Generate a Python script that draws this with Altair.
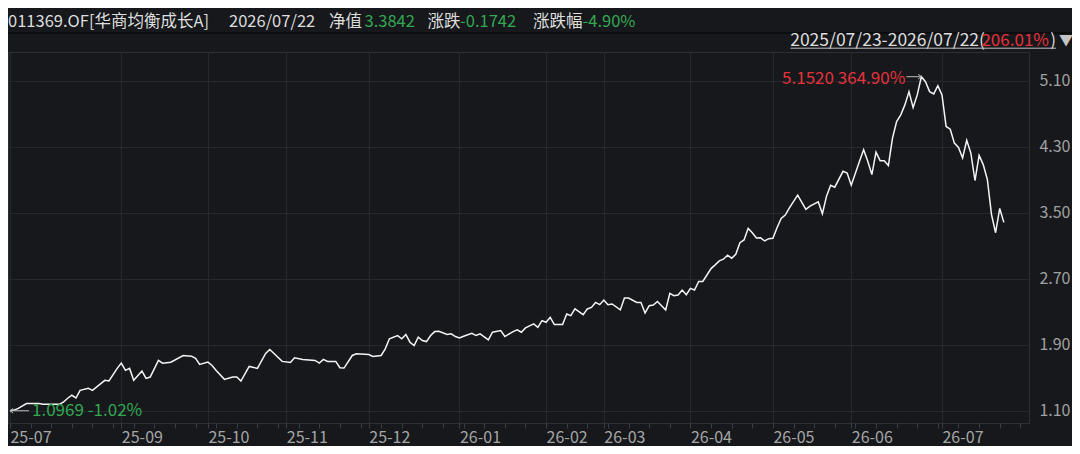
import altair as alt
import pandas as pd

FONT = "Noto Sans CJK SC"
BG = "#16181c"
GRID = "#25282e"
BORDER = "#2c2f36"
WHITE = "#dedede"
GREEN = "#33a852"
RED = "#e5323b"

# trading day index (0 = 2025/07/23) and unit NAV
days = [0, 1, 2, 4, 5, 7, 8, 10, 12, 13, 14, 15, 16, 17, 19, 20, 23, 24, 26, 27,
        28, 29, 30, 32, 33, 34, 36, 37, 39, 42, 44, 45, 46, 48, 49, 50, 52, 54, 55, 56,
        58, 60, 62, 63, 66, 68, 69, 71, 74, 75, 76, 77, 79, 80, 81, 83, 84, 87, 88, 90,
        91, 92, 94, 95, 96, 97, 98, 99, 100, 101, 102, 103, 104, 106, 107, 108, 109, 110, 112, 113,
        114, 116, 117, 119, 120, 122, 123, 124, 125, 127, 128, 129, 130, 131, 132, 134, 135, 136, 137, 139,
        140, 141, 142, 143, 144, 145, 146, 148, 149, 150, 152, 153, 154, 155, 156, 157, 159, 160, 161, 162,
        163, 164, 165, 166, 167, 168, 170, 171, 172, 173, 174, 175, 176, 177, 178, 179, 180, 181, 182, 183,
        184, 185, 186, 187, 188, 189, 191, 193, 194, 196, 197, 198, 199, 200, 202, 203, 204, 206, 207, 208,
        209, 210, 211, 212, 213, 214, 215, 216, 217, 218, 219, 220, 221, 222, 223, 224, 225, 226, 227, 228,
        229, 230, 231, 232, 233, 234, 235, 236, 237, 238, 239, 240, 241]
nav = [1.0969, 1.105, 1.125, 1.185, 1.185, 1.185, 1.175, 1.175, 1.175, 1.204, 1.249, 1.285, 1.252, 1.345, 1.369, 1.345, 1.466, 1.458, 1.611, 1.675,
       1.587, 1.611, 1.466, 1.579, 1.490, 1.506, 1.708, 1.675, 1.687, 1.768, 1.760, 1.732, 1.660, 1.687, 1.647, 1.587, 1.478, 1.506, 1.506, 1.458,
       1.635, 1.611, 1.792, 1.841, 1.696, 1.684, 1.740, 1.720, 1.708, 1.675, 1.720, 1.696, 1.696, 1.620, 1.615, 1.768, 1.789, 1.780, 1.756, 1.768,
       1.849, 1.970, 2.010, 1.970, 2.022, 1.929, 1.889, 1.989, 1.950, 1.937, 2.010, 2.058, 2.062, 2.022, 2.031, 1.998, 1.982, 2.002, 2.038, 2.010,
       2.031, 1.958, 2.050, 2.070, 1.998, 2.058, 2.079, 2.050, 2.103, 2.151, 2.110, 2.191, 2.171, 2.231, 2.143, 2.143, 2.272, 2.252, 2.333, 2.264,
       2.333, 2.352, 2.412, 2.385, 2.441, 2.385, 2.393, 2.321, 2.466, 2.466, 2.412, 2.412, 2.284, 2.373, 2.381, 2.424, 2.321, 2.521, 2.493, 2.502,
       2.562, 2.505, 2.582, 2.562, 2.666, 2.666, 2.823, 2.868, 2.916, 2.937, 2.985, 2.949, 2.997, 3.137, 3.170, 3.311, 3.258, 3.194, 3.198, 3.158,
       3.186, 3.191, 3.319, 3.432, 3.472, 3.560, 3.714, 3.541, 3.581, 3.633, 3.488, 3.702, 3.835, 3.811, 4.004, 3.983, 3.835, 4.125, 4.266, 4.125,
       3.964, 4.237, 4.133, 4.133, 4.073, 4.406, 4.608, 4.689, 4.810, 4.971, 4.777, 4.931, 5.152, 5.092, 4.971, 4.943, 5.043, 4.931, 4.548, 4.515,
       4.346, 4.294, 4.165, 4.379, 4.225, 3.892, 4.197, 4.085, 3.904, 3.481, 3.258, 3.553, 3.3842]

month_days = [0, 27, 48, 67, 87, 109, 130, 144, 165, 185, 204, 226]
month_labels = ["25-07", "25-09", "25-10", "25-11", "25-12", "26-01",
                "26-02", "26-03", "26-04", "26-05", "26-06", "26-07"]
week_days = list(range(0, 246, 5))
y_ticks = [1.10, 1.90, 2.70, 3.50, 4.30, 5.10]

peak_label = "5.1520 364.90%"
start_label = "1.0969 -1.02%"

df = pd.DataFrame({"day": days, "nav": nav})
i_max = nav.index(max(nav))
peak_df = pd.DataFrame({"day": [days[i_max]], "nav": [nav[i_max]], "label": [peak_label]})
start_df = pd.DataFrame({"day": [days[0]], "nav": [nav[0]], "label": [start_label]})

is_month = f"indexof({month_days}, datum.value) >= 0"

X = alt.X(
    "day:Q",
    title=None,
    scale=alt.Scale(domain=[-0.48, 247.1], nice=False, zero=False),
    axis=alt.Axis(
        values=sorted(set(month_days + week_days)),
        labelExpr=f"{is_month} ? {month_labels}[indexof({month_days}, datum.value)] : ''",
        grid=True,
        gridColor={"condition": {"test": is_month, "value": GRID}, "value": "rgba(0,0,0,0)"},
        domain=False,
        ticks=True,
        tickSize=5,
        tickColor="#383c44",
        labelAlign="left",
        labelBaseline="middle",
        labelPadding=9,
        labelFlush=False,
        labelOverlap=False,
        labelBound=False,
        labelColor="#a6a6a6",
        labelFontSize=16,
    ),
)
Y = alt.Y(
    "nav:Q",
    title=None,
    scale=alt.Scale(domain=[0.9483, 5.452], nice=False, zero=False),
    axis=alt.Axis(
        orient="right",
        values=y_ticks,
        format=".2f",
        grid=True,
        gridColor=GRID,
        domain=False,
        ticks=False,
        tickSize=0,
        labelAlign="right",
        labelBaseline="middle",
        labelPadding=41,
        labelColor="#a0a0a0",
        labelFontSize=16,
    ),
)

line = alt.Chart(df).mark_line(color="#f4f4f4", strokeWidth=1.5).encode(x=X, y=Y)

peak_text = alt.Chart(peak_df).mark_text(
    align="right", baseline="middle", dx=-16, dy=2, color=RED, fontSize=17, font=FONT
).encode(x=X, y=Y, text="label:N")
peak_rule = alt.Chart(peak_df).mark_rule(color="#bdbdbd", strokeWidth=1, x2Offset=-15).encode(
    x=X, x2="day:Q", y=Y
)
peak_head = alt.Chart(peak_df).mark_point(
    shape="M -0.8 -0.6 L 0 0 L -0.8 0.6", filled=False, size=64, color="#bdbdbd", strokeWidth=1, opacity=1
).encode(x=X, y=Y)

start_text = alt.Chart(start_df).mark_text(
    align="left", baseline="middle", dx=22, dy=0, color=GREEN, fontSize=17, font=FONT
).encode(x=X, y=Y, text="label:N")
start_rule = alt.Chart(start_df).mark_rule(color="#bdbdbd", strokeWidth=1, x2Offset=19).encode(
    x=X, x2="day:Q", y=Y
)
start_head = alt.Chart(start_df).mark_point(
    shape="M 0.8 -0.6 L 0 0 L 0.8 0.6", filled=False, size=64, color="#bdbdbd", strokeWidth=1, opacity=1
).encode(x=X, y=Y)


def label(text, x, y, color, size=17, align="left"):
    return alt.Chart(alt.Data(values=[{}])).mark_text(
        text=text, align=align, baseline="middle", color=color, fontSize=size, font=FONT
    ).encode(x=alt.value(x), y=alt.value(y))


HY = -30
HS = 16.5
header = [
    label("011369.OF[华商均衡成长A]", 0, HY, WHITE, size=HS),
    label("2026/07/22", 221, HY, WHITE, size=HS),
    label("净值", 321, HY, WHITE, size=HS),
    label("3.3842", 356.5, HY, GREEN, size=HS),
    label("涨跌", 419.5, HY, WHITE, size=HS),
    label("-0.1742", 452, HY, GREEN, size=HS),
    label("涨跌幅", 525, HY, WHITE, size=HS),
    label("-4.90%", 574.5, HY, GREEN, size=HS),
]
RY = -10.6
range_row = [
    label("2025/07/23-2026/07/22(", 977, RY, WHITE, size=17.5, align="right"),
    label("206.01%", 1041, RY, RED, size=17, align="right"),
    label(")", 1048, RY, WHITE, size=17, align="right"),
    label("▼", 1058, RY, "#c4c4c4", size=14, align="center"),
]
underline = alt.Chart(alt.Data(values=[{}])).mark_rule(color="#bfbfbf", strokeWidth=1).encode(
    x=alt.value(782.5), x2=alt.value(1048), y=alt.value(-3.8)
)
separator = alt.Chart(alt.Data(values=[{}])).mark_rule(color="#0b0c0e", strokeWidth=2).encode(
    x=alt.value(0), x2=alt.value(1064), y=alt.value(-19)
)

chart = alt.layer(
    separator, line, peak_rule, peak_head, peak_text, start_rule, start_head, start_text,
    *header, *range_row, underline,
).properties(
    width=1021,
    height=371,
    padding={"left": 0, "top": 44, "right": 43, "bottom": 23},
    autosize=alt.AutoSizeParams(type="none"),
    background=BG,
).configure_view(
    stroke=BORDER, strokeWidth=1
).configure_axis(
    labelFont=FONT
)

chart.save("out.html", embed_options={"renderer": "svg", "actions": False})
